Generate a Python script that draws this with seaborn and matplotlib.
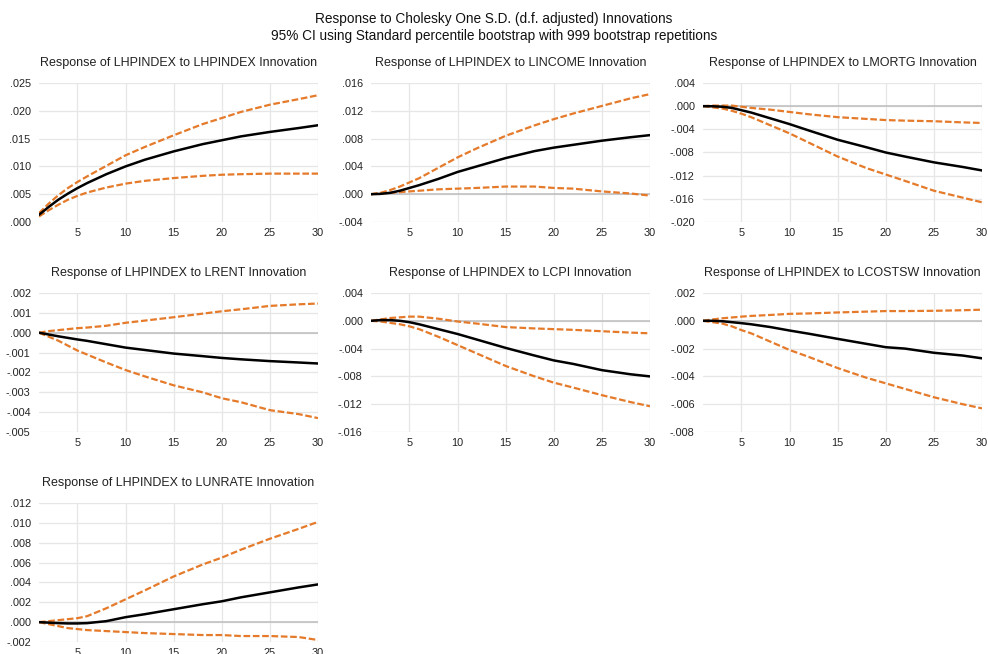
import seaborn as sns
import matplotlib.pyplot as plt
import matplotlib.ticker as mticker
import numpy as np
import pandas as pd

# horizons (periods)
periods = [1, 2, 3, 4, 5, 6, 8, 10, 12, 15, 18, 20, 22, 25, 28, 30]

shocks = ["LHPINDEX", "LINCOME", "LMORTG", "LRENT", "LCPI", "LCOSTSW", "LUNRATE"]

# point responses
resp_lhpindex = [.0013, .0027, .0040, .0051, .0061, .0070, .0086, .0100, .0112, .0127, .0140, .0147, .0154, .0162, .0169, .0174]
resp_lincome = [0, .00005, .0002, .0005, .0009, .0013, .0022, .0032, .0040, .0052, .0062, .0067, .0071, .0077, .0082, .0085]
resp_lmortg = [0, -.00002, -.0001, -.0003, -.0007, -.0011, -.0021, -.0031, -.0042, -.0058, -.0071, -.0080, -.0087, -.0097, -.0105, -.0111]
resp_lrent = [0, -.00009, -.00018, -.00026, -.00034, -.00041, -.00058, -.00075, -.00087, -.00105, -.00118, -.00127, -.00134, -.00143, -.00150, -.00155]
resp_lcpi = [0, .0001, .0001, 0, -.0002, -.0005, -.0012, -.0019, -.0027, -.0039, -.0050, -.0057, -.0062, -.0071, -.0077, -.0080]
resp_lcostsw = [0, 0, -.00003, -.0001, -.00017, -.00025, -.00045, -.0007, -.00093, -.0013, -.00166, -.0019, -.0020, -.0023, -.0025, -.0027]
resp_lunrate = [0, -.00005, -.0001, -.00013, -.00013, -.0001, .0001, .0005, .0008, .0013, .0018, .0021, .0025, .0030, .0035, .0038]

# upper CI bounds
hi_lhpindex = [.0016, .0033, .0048, .0061, .0072, .0082, .0101, .0120, .0135, .0156, .0176, .0187, .0198, .0211, .0221, .0228]
hi_lincome = [0, .0002, .0006, .0011, .0017, .0023, .0038, .0053, .0066, .0084, .0099, .0108, .0116, .0127, .0138, .0144]
hi_lmortg = [0, .0001, .0001, .0001, -.0001, -.0003, -.0006, -.0010, -.0014, -.0019, -.0022, -.0024, -.0025, -.0026, -.0028, -.0029]
hi_lrent = [0, .00008, .00013, .00018, .00023, .00026, .00035, .0005, .00061, .00078, .00096, .00108, .00118, .00135, .00143, .00147]
hi_lcpi = [0, .0002, .0004, .0005, .0006, .0006, .0003, -.0001, -.0004, -.0009, -.0011, -.0012, -.0013, -.0015, -.0017, -.0018]
hi_lcostsw = [0, .0001, .00018, .00024, .0003, .00035, .00042, .0005, .00053, .0006, .00066, .0007, .0007, .00072, .00076, .0008]
hi_lunrate = [0, .0001, .0002, .0003, .0004, .0006, .0014, .0023, .0032, .0046, .0058, .0065, .0073, .0084, .0094, .0101]

# lower CI bounds
lo_lhpindex = [.0010, .0021, .0031, .0040, .0047, .0053, .0062, .0069, .0074, .0079, .0083, .0085, .0086, .0087, .0087, .0087]
lo_lincome = [0, .0001, .0002, .0003, .0004, .0005, .0007, .0008, .0009, .0011, .0011, .0009, .0008, .0004, .0001, -.0002]
lo_lmortg = [0, -.0002, -.0004, -.0008, -.0013, -.0019, -.0033, -.0047, -.0063, -.0087, -.0107, -.0118, -.0129, -.0146, -.0158, -.0166]
lo_lrent = [0, -.0002, -.0004, -.00065, -.0009, -.0011, -.0015, -.00188, -.0022, -.00265, -.0030, -.0033, -.0035, -.0039, -.0041, -.0043]
lo_lcpi = [0, -.0001, -.0003, -.0005, -.0008, -.0012, -.0023, -.0035, -.0047, -.0065, -.0080, -.0089, -.0096, -.0107, -.0117, -.0123]
lo_lcostsw = [0, -.0001, -.0002, -.0004, -.00067, -.0009, -.0015, -.0021, -.0026, -.0034, -.0041, -.0045, -.0049, -.0055, -.0060, -.0063]
lo_lunrate = [0, -.0002, -.0004, -.0006, -.0007, -.0008, -.0009, -.0010, -.0011, -.0012, -.0013, -.0013, -.0014, -.0014, -.0015, -.0018]

# y tick ranges per panel (min, max, step)
yticks_spec = [(0, .025, .005), (-.004, .016, .004), (-.020, .004, .004),
               (-.005, .002, .001), (-.016, .004, .004), (-.008, .002, .002),
               (-.002, .012, .002)]

resp = [resp_lhpindex, resp_lincome, resp_lmortg, resp_lrent, resp_lcpi, resp_lcostsw, resp_lunrate]
hi = [hi_lhpindex, hi_lincome, hi_lmortg, hi_lrent, hi_lcpi, hi_lcostsw, hi_lunrate]
lo = [lo_lhpindex, lo_lincome, lo_lmortg, lo_lrent, lo_lcpi, lo_lcostsw, lo_lunrate]

sns.set_style("white")
plt.rcParams['font.family'] = ['Liberation Sans', 'DejaVu Sans']

W, H = 988, 654
fig = plt.figure(figsize=(W / 100, H / 100), dpi=100)

col_x = [39, 371, 703]
row_y = [83, 293, 503]
aw, ah = 279, 139

orange = "#E47A2A"


def fmt(v, pos):
    s = "%.3f" % v
    if s.startswith("-0"):
        s = "-" + s[2:]
    elif s.startswith("0"):
        s = s[1:]
    if s == "-.000":
        s = ".000"
    return s


for i, name in enumerate(shocks):
    r, c = divmod(i, 3)
    ax = fig.add_axes([col_x[c] / W, 1 - (row_y[r] + ah) / H, aw / W, ah / H])
    df = pd.DataFrame({"period": periods, "resp": resp[i], "hi": hi[i], "lo": lo[i]})
    lo_y, hi_y, step = yticks_spec[i]
    ticks = np.round(np.arange(lo_y, hi_y + step / 2, step), 4)
    ax.set_yticks(ticks)
    ax.set_xticks([5, 10, 15, 20, 25, 30])
    ax.grid(True, color="#e6e6e6", lw=0.9)
    ax.set_axisbelow(True)
    if lo_y < 0 < hi_y:
        ax.axhline(0, color="#bdbdbd", lw=1.1, zorder=1)
    sns.lineplot(data=df, x="period", y="hi", ax=ax, color=orange, lw=1.6,
                 linestyle=(0, (3, 1.2)), zorder=3)
    sns.lineplot(data=df, x="period", y="lo", ax=ax, color=orange, lw=1.6,
                 linestyle=(0, (3, 1.2)), zorder=3)
    sns.lineplot(data=df, x="period", y="resp", ax=ax, color="black", lw=1.8, zorder=4)
    ax.set_xlim(1, 30)
    ax.set_ylim(lo_y, hi_y)
    ax.yaxis.set_major_formatter(mticker.FuncFormatter(fmt))
    ax.tick_params(axis="both", length=0, labelsize=7.8, colors="#222222")
    ax.tick_params(axis="y", pad=6)
    ax.tick_params(axis="x", pad=4)
    for s in ax.spines.values():
        s.set_visible(False)
    ax.set_xlabel("")
    ax.set_ylabel("")
    ax.set_title("Response of LHPINDEX to %s Innovation" % name, fontsize=9,
                 pad=12, color="#222222")

fig.text(0.5, 1 - 19 / H, "Response to Cholesky One S.D. (d.f. adjusted) Innovations",
         ha="center", va="center", fontsize=9.8, color="#111111")
fig.text(0.5, 1 - 36 / H, "95% CI using Standard percentile bootstrap with 999 bootstrap repetitions",
         ha="center", va="center", fontsize=9.8, color="#111111")

fig.savefig("out.png", dpi=100)
